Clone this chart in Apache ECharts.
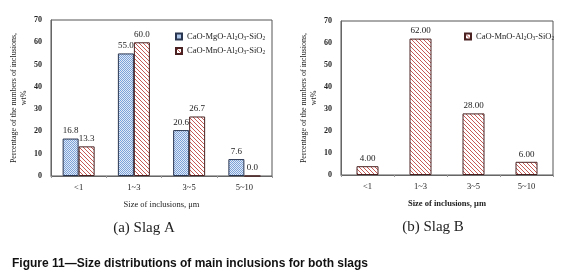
<!DOCTYPE html>
<html>
<head>
<meta charset="utf-8">
<style>
  html, body { margin: 0; padding: 0; background: #fff; }
  #chart { width: 564px; height: 278px; }
</style>
<script src="https://cdn.jsdelivr.net/npm/echarts@6/dist/echarts.min.js"></script>
</head>
<body>
<div id="chart"></div>
<script>
var categories = ['<1', '1~3', '3~5', '5~10'];
var slagA_MgO = [16.8, 55.0, 20.6, 7.6];
var slagA_MnO = [13.3, 60.0, 26.7, 0.0];
var slagB_MnO = [4.00, 62.00, 28.00, 6.00];
var yTicks = { min: 0, max: 70, interval: 10 };

var nameMgO = 'CaO-MgO-Al2O3-SiO2';
var nameMnO = 'CaO-MnO-Al2O3-SiO2';
var serif = 'Liberation Serif, Times New Roman, serif';

// fill patterns
function dotPattern() {
    var c = document.createElement('canvas');
    c.width = 2; c.height = 2;
    var ctx = c.getContext('2d');
    ctx.fillStyle = '#e2eaf7';
    ctx.fillRect(0, 0, 2, 2);
    ctx.fillStyle = '#7ba3da';
    ctx.fillRect(0, 0, 1, 1);
    ctx.fillRect(1, 1, 1, 1);
    return c;
}
function hatchPattern() {
    var c = document.createElement('canvas');
    c.width = 4; c.height = 4;
    var ctx = c.getContext('2d');
    ctx.fillStyle = '#ffffff';
    ctx.fillRect(0, 0, 4, 4);
    ctx.strokeStyle = '#c65a56';
    ctx.lineWidth = 1;
    ctx.beginPath();
    ctx.moveTo(-1, -1); ctx.lineTo(5, 5);
    ctx.moveTo(-1, 3); ctx.lineTo(1, 5);
    ctx.moveTo(3, -1); ctx.lineTo(5, 1);
    ctx.stroke();
    return c;
}
var blueFill = { image: dotPattern(), repeat: 'repeat' };
var redFill = { image: hatchPattern(), repeat: 'repeat' };

function subName(name) {
    return name.replace(/(\d)/g, '}{s|$1}{n|').replace(/^/, '{n|') + '}';
}

var myChart = echarts.init(document.getElementById('chart'));

function yAxisCfg(gridIndex) {
    return {
        gridIndex: gridIndex,
        min: yTicks.min, max: yTicks.max, interval: yTicks.interval,
        name: 'Percentage of the numbers of inclusions,\nwt%',
        nameLocation: 'middle',
        nameGap: 22,
        nameTextStyle: { fontFamily: serif, fontSize: 8, color: '#222', lineHeight: 10 },
        axisLine: { show: true, lineStyle: { color: '#666' } },
        axisTick: { show: false },
        splitLine: { show: false },
        axisLabel: { fontFamily: serif, fontSize: 8, color: '#222', fontWeight: 'bold', margin: 9 }
    };
}
function xAxisCfg(gridIndex, bold) {
    return {
        gridIndex: gridIndex,
        type: 'category',
        data: categories,
        name: 'Size of inclusions, \u03bcm',
        nameLocation: 'middle',
        nameGap: 24,
        nameTextStyle: { fontFamily: serif, fontSize: 8.5, color: '#222', fontWeight: bold ? 'bold' : 'normal' },
        axisLine: { show: true, lineStyle: { color: '#666' } },
        axisTick: { show: true, length: 2, lineStyle: { color: '#999' } },
        axisLabel: { fontFamily: serif, fontSize: 8.5, color: '#222', margin: 7 }
    };
}
function labelCfg(digits) {
    return {
        show: true, position: 'top', distance: 3,
        fontFamily: serif, fontSize: 9, color: '#222',
        formatter: function (p) { return p.value.toFixed(digits); }
    };
}
var legendText = {
    fontFamily: serif, fontSize: 8.5, color: '#222',
    rich: { n: { fontFamily: serif, fontSize: 8.5, color: '#222' },
            s: { fontFamily: serif, fontSize: 5.5, color: '#222', padding: [4, 0, 0, 0] } }
};

var option = {
    animation: false,
    backgroundColor: '#fff',
    grid: [
        { left: 51, right: 292, top: 20, bottom: 102, show: true, borderColor: '#555', borderWidth: 1, backgroundColor: 'transparent' },
        { left: 341, right: 11, top: 21, bottom: 103, show: true, borderColor: '#555', borderWidth: 1, backgroundColor: 'transparent' }
    ],
    legend: [
        { orient: 'vertical', left: 170, top: 27, icon: 'rect', itemWidth: 6, itemHeight: 6, itemGap: 5,
          data: [nameMgO, nameMnO], textStyle: legendText, formatter: subName },
        { orient: 'vertical', left: 459, top: 27, icon: 'rect', itemWidth: 6, itemHeight: 6,
          data: [nameMnO], textStyle: legendText, formatter: subName }
    ],
    xAxis: [xAxisCfg(0, false), xAxisCfg(1, true)],
    yAxis: [yAxisCfg(0), yAxisCfg(1)],
    series: [
        { name: nameMgO, type: 'bar', xAxisIndex: 0, yAxisIndex: 0, barWidth: 16, barGap: '0%',
          itemStyle: { color: blueFill, borderColor: '#2a3550', borderWidth: 1 },
          label: labelCfg(1), data: slagA_MgO },
        { name: nameMnO, type: 'bar', xAxisIndex: 0, yAxisIndex: 0, barWidth: 16, barGap: '0%',
          itemStyle: { color: redFill, borderColor: '#4a2222', borderWidth: 1 },
          label: labelCfg(1), data: slagA_MnO },
        { name: nameMnO, type: 'bar', xAxisIndex: 1, yAxisIndex: 1, barWidth: 22,
          itemStyle: { color: redFill, borderColor: '#4a2222', borderWidth: 1 },
          label: labelCfg(2), data: slagB_MnO }
    ],
    graphic: [
        { type: 'text', x: 144, y: 228, style: { text: '(a) Slag A', fontFamily: serif, fontSize: 15, fill: '#222', textAlign: 'center', textVerticalAlign: 'middle' } },
        { type: 'text', x: 433, y: 227, style: { text: '(b) Slag B', fontFamily: serif, fontSize: 15, fill: '#222', textAlign: 'center', textVerticalAlign: 'middle' } },
        { type: 'text', x: 12, y: 264, style: { text: 'Figure 11\u2014Size distributions of main inclusions for both slags', fontFamily: 'Liberation Sans, Arial, sans-serif', fontWeight: 'bold', fontSize: 12, fill: '#111', textVerticalAlign: 'middle' } }
    ]
};

myChart.setOption(option);
</script>
</body>
</html>
